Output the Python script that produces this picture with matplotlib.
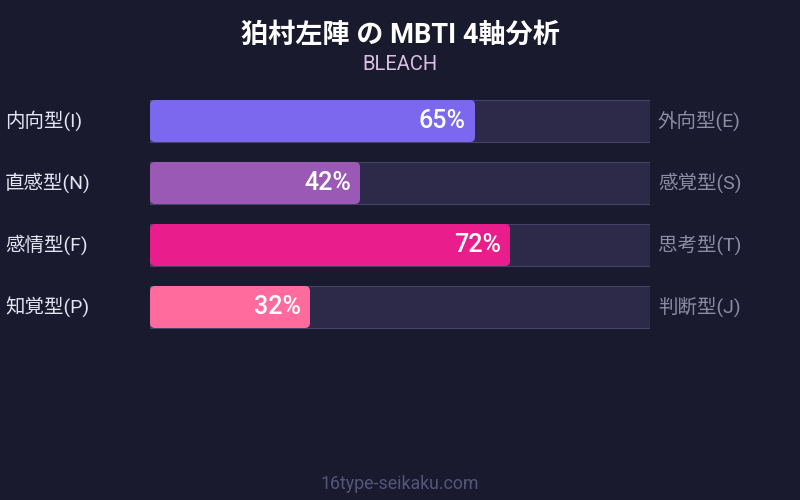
import matplotlib
matplotlib.use('Agg')
from matplotlib import pyplot as plt
from matplotlib.patches import FancyBboxPatch, Rectangle

plt.rcParams['font.family'] = ['Roboto', 'Noto Sans CJK JP', 'DejaVu Sans']

# data
title = '狛村左陣 の MBTI 4軸分析'
subtitle = 'BLEACH'
left_labels = ['内向型(I)', '直感型(N)', '感情型(F)', '知覚型(P)']
right_labels = ['外向型(E)', '感覚型(S)', '思考型(T)', '判断型(J)']
values = [65, 42, 72, 32]
colors = ['#7b68ee', '#9b59b6', '#e91e8c', '#ff6b9d']

BG = '#1a1a2e'
TRACK = '#2c2a48'
TRACK_EDGE = '#45436a'

fig = plt.figure(figsize=(8, 5), dpi=100)
fig.patch.set_facecolor(BG)

# axes covers the bar track area: 150..650 px wide, 4 rows of 62 px
ax = fig.add_axes([150 / 800, (500 - 338) / 500, 500 / 800, 248 / 500])
ax.set_xlim(0, 100)
ax.set_ylim(len(values) - 0.5, -0.5)
ax.axis('off')

bar_h = 42 / 62
# rounding of 5 px: 1 x-unit = 5 px, 1 y-unit = 62 px
aspect = (5 / 62) / 1.0

for i, (v, c) in enumerate(zip(values, colors)):
    ax.add_patch(Rectangle((0, i - bar_h / 2), 100, bar_h,
                           facecolor=TRACK, edgecolor=TRACK_EDGE, lw=0.8))
    ax.add_patch(FancyBboxPatch((0, i - bar_h / 2), v, bar_h,
                                boxstyle='round,pad=0,rounding_size=1',
                                mutation_aspect=aspect,
                                facecolor=c, edgecolor='none'))
    ax.text(v - 1.8, i, f'{v}%', ha='right', va='center', color='white',
            fontsize=18, fontweight='medium')
    ax.text(-29, i, left_labels[i], ha='left', va='center',
            color='#e4e4f2', fontsize=14)
    ax.text(101.6, i, right_labels[i], ha='left', va='center',
            color='#8c8ca4', fontsize=14)

fig.text(0.5, 1 - 35 / 500, title, ha='center', va='center', color='white',
         fontsize=19.5, fontweight='bold')
fig.text(0.5, 1 - 64 / 500, subtitle, ha='center', va='center',
         color='#dcc0e4', fontsize=14.5)
fig.text(0.5, 1 - 484 / 500, '16type-seikaku.com', ha='center', va='center',
         color='#55557a', fontsize=12.8)

fig.savefig('out.png', dpi=100, facecolor=BG)
